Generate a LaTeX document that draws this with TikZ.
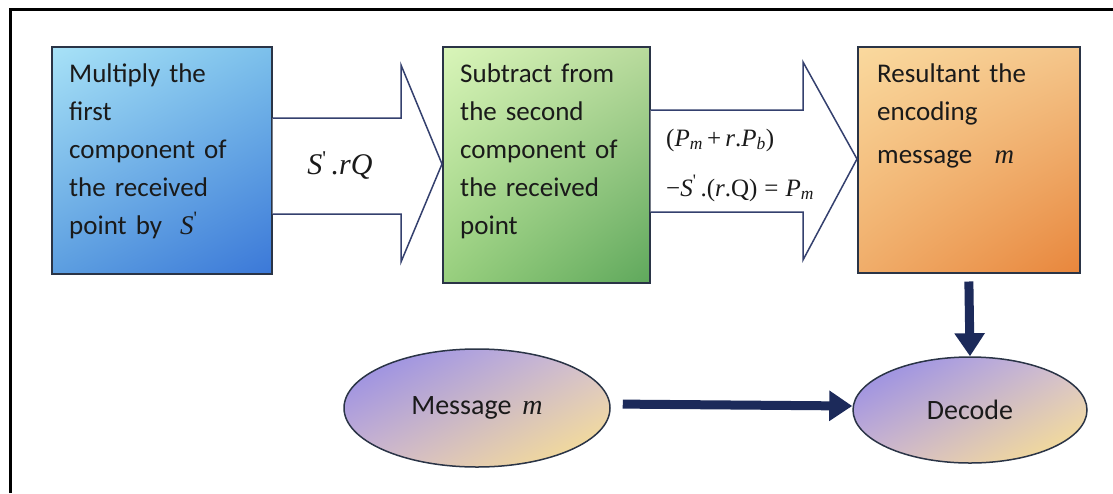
\documentclass[tikz,border=0pt]{standalone}
\usepackage{fontspec}
\setmainfont{Carlito}
\newfontfamily\tms{Liberation Serif}
\usetikzlibrary{arrows.meta,shapes.geometric,shadings}
\definecolor{boxline}{HTML}{2A3446}
\definecolor{arrline}{HTML}{34406E}
\definecolor{navy}{HTML}{1C2A5A}
\definecolor{txtcol}{HTML}{1A1A1A}
\definecolor{bUL}{HTML}{A8E2F7}\definecolor{bUR}{HTML}{7CC0EB}
\definecolor{bLL}{HTML}{5C9EE0}\definecolor{bLR}{HTML}{3B78D8}
\definecolor{gUL}{HTML}{D9F5B9}\definecolor{gUR}{HTML}{B8DA9C}
\definecolor{gLL}{HTML}{98CF7E}\definecolor{gLR}{HTML}{5FA85C}
\definecolor{oUL}{HTML}{FAD99E}\definecolor{oUR}{HTML}{F4C58A}
\definecolor{oLL}{HTML}{F0AD6A}\definecolor{oLR}{HTML}{E8863C}
\definecolor{eUL}{HTML}{8D85E8}\definecolor{eUR}{HTML}{D6C2D2}
\definecolor{eLL}{HTML}{CDB6D2}\definecolor{eLR}{HTML}{FDE48A}
\begin{document}
\begin{tikzpicture}[x=1pt,y=-1pt,
  box/.style={draw=boxline, line width=1.5pt, inner sep=0pt, anchor=north west, shade},
  bluebox/.style={box, upper left=bUL, upper right=bUR, lower left=bLL, lower right=bLR},
  greenbox/.style={box, upper left=gUL, upper right=gUR, lower left=gLL, lower right=gLR},
  orangebox/.style={box, upper left=oUL, upper right=oUR, lower left=oLL, lower right=oLR},
  boxtext/.style={anchor=base west, inner sep=0pt, text width=205pt, align=left, text=txtcol,
    font=\fontsize{27}{38}\selectfont},
  blockarrow/.style={draw=arrline, line width=1.5pt, fill=white, line join=miter},
  mathlbl/.style={inner sep=0pt, text=txtcol},
  ell/.style={ellipse, draw=boxline, line width=1.5pt, inner sep=0pt, shade,
    upper left=eUL, upper right=eUR, lower left=eLL, lower right=eLR, text=txtcol,
    font=\fontsize{28}{32}\selectfont},
  thickarrow/.style={draw=navy, line width=9pt, -{Triangle[width=29pt,length=23pt]}}
]
\useasboundingbox (0,0) rectangle (1113,493);
\fill[white] (0,0) rectangle (1113,493);
\draw[line width=3pt] (10,493) -- (10,9.5) -- (1113,9.5);

% boxes
\node[bluebox, minimum width=220pt, minimum height=227pt] (b1) at (51,46) {};
\node[greenbox, minimum width=207pt, minimum height=236pt] (b2) at (442,46) {};
\node[orangebox, minimum width=222pt, minimum height=226pt] (b3) at (857,46) {};

\node[boxtext] (t1) at (69,82) {Multiply the\\first\\component of\\the received\\point by \ {\tms\itshape S\textsuperscript{\upshape '}}};
\node[boxtext] (t2) at (460,82) {Subtract from\\the second\\component of\\the received\\point};
\node[boxtext] (t3) at (877,82) {Resultant the\\encoding\\[5pt]message \ \,{\tms\itshape m}};

% block arrows
\draw[blockarrow] (b1.east |- 0,118) -- (401,118) -- (401,65) -- (b2.west |- 0,164)
  -- (401,262) -- (401,214) -- (b1.east |- 0,214);
\draw[blockarrow] (b2.east |- 0,110) -- (803,110) -- (803,62) -- (b3.west |- 0,159)
  -- (803,260) -- (803,212) -- (b2.east |- 0,212);

\node[mathlbl, font=\tms\fontsize{30}{30}\selectfont] (l1) at (340,166)
  {\itshape S\textsuperscript{\upshape '}\,.rQ};
\node[mathlbl, anchor=west, align=left, font=\tms\fontsize{25}{50}\selectfont] (l2) at (666,165)
  {(\textit{P}\textsubscript{\itshape m}\,+\,\textit{r}.\textit{P}\textsubscript{\itshape b})\\
   \textminus\textit{S}\textsuperscript{\upshape '}\,.(\textit{r}.Q)\;=\;\textit{P}\textsubscript{\itshape m}};

% ellipses
\node[ell, minimum width=266pt, minimum height=118pt] (msg) at (477,408)
  {Message\hspace{11pt}{\tms\itshape m}\hspace{40pt}};
\node[ell, minimum width=234pt, minimum height=106pt] (dec) at (970,410) {Decode};

% thick arrows
\draw[thickarrow, shorten <=8pt] (b3.south) -- (dec.north);
\draw[thickarrow, shorten <=12pt] ([yshift=4pt]msg.east) -- ([yshift=4pt]dec.west);
\end{tikzpicture}
\end{document}
